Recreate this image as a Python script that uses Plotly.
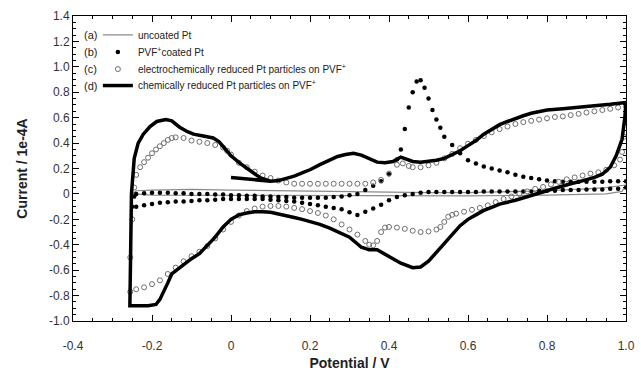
import plotly.graph_objects as go

# ---- (a) uncoated Pt : anodic sweep then cathodic sweep ----
a_potential = [-0.25, -0.24, -0.20, -0.10, 0.00, 0.10, 0.20, 0.30, 0.40, 0.50, 0.60, 0.70, 0.80, 0.90, 0.95, 1.00,
               0.99, 0.95, 0.90, 0.80, 0.60, 0.40, 0.20, 0.00, -0.10, -0.20, -0.25]
a_current = [0.00, 0.025, 0.03, 0.035, 0.03, 0.025, 0.02, 0.015, 0.01, 0.01, 0.01, 0.015, 0.025, 0.04, 0.05, 0.07,
             0.02, 0.00, -0.005, -0.01, -0.015, -0.015, -0.015, -0.01, -0.01, -0.01, 0.00]

# ---- (b) PVF+ coated Pt ----
b_potential = [-0.25, -0.245, -0.24, -0.22, -0.20, -0.18, -0.16, -0.14, -0.12, -0.10, -0.08, -0.06, -0.04, -0.02,
               0.00, 0.02, 0.04, 0.06, 0.08, 0.10, 0.12, 0.14, 0.16, 0.18, 0.20, 0.22, 0.24, 0.26, 0.28, 0.30,
               0.32, 0.34, 0.36, 0.38, 0.40, 0.42, 0.43, 0.44, 0.45, 0.46, 0.47, 0.48, 0.49, 0.50, 0.51, 0.52,
               0.53, 0.54, 0.56, 0.58, 0.60, 0.62, 0.64, 0.66, 0.68, 0.70, 0.72, 0.74, 0.76, 0.78, 0.80, 0.82,
               0.84, 0.86, 0.88, 0.90, 0.92, 0.94, 0.96, 0.98, 1.00,
               1.00, 0.98, 0.96, 0.94, 0.92, 0.90, 0.88, 0.86, 0.84, 0.82, 0.80, 0.78, 0.76, 0.74, 0.72, 0.70,
               0.68, 0.66, 0.64, 0.62, 0.60, 0.58, 0.56, 0.54, 0.52, 0.50, 0.48, 0.46, 0.44, 0.42, 0.40, 0.38,
               0.36, 0.34, 0.32, 0.30, 0.28, 0.26, 0.24, 0.22, 0.20, 0.18, 0.16, 0.14, 0.12, 0.10, 0.08, 0.06,
               0.04, 0.02, 0.00, -0.02, -0.04, -0.06, -0.08, -0.10, -0.12, -0.14, -0.16, -0.18, -0.20, -0.22,
               -0.24]
b_current = [-0.10, -0.02, 0.00, 0.005, 0.01, 0.01, 0.01, 0.005, 0.005, 0.00, 0.00, 0.00, -0.005, -0.005,
             -0.01, -0.01, -0.015, -0.015, -0.02, -0.02, -0.025, -0.025, -0.03, -0.03, -0.03, -0.03, -0.03,
             -0.025, -0.02, -0.01, 0.00, 0.03, 0.065, 0.10, 0.155, 0.27, 0.35, 0.51, 0.68, 0.80, 0.885, 0.895,
             0.835, 0.75, 0.66, 0.585, 0.52, 0.45, 0.385, 0.32, 0.265, 0.24, 0.215, 0.20, 0.185, 0.17, 0.15,
             0.135, 0.125, 0.115, 0.105, 0.10, 0.095, 0.095, 0.095, 0.095, 0.095, 0.095, 0.10, 0.10, 0.10,
             0.05, 0.04, 0.04, 0.035, 0.035, 0.035, 0.03, 0.03, 0.03, 0.025, 0.025, 0.025, 0.02, 0.02, 0.02,
             0.02, 0.02, 0.02, 0.02, 0.015, 0.015, 0.015, 0.015, 0.015, 0.015, 0.015, 0.01, 0.00, -0.01,
             -0.025, -0.05, -0.085, -0.115, -0.14, -0.165, -0.145, -0.12, -0.11, -0.10, -0.09, -0.08, -0.07,
             -0.06, -0.055, -0.05, -0.045, -0.04, -0.04, -0.04, -0.04, -0.04, -0.04, -0.045, -0.05, -0.05,
             -0.055, -0.06, -0.06, -0.065, -0.07, -0.08, -0.09, -0.10]

# ---- (c) electrochemically reduced Pt particles on PVF+ ----
c_potential = [-0.255, -0.255, -0.25, -0.245, -0.24, -0.23, -0.22, -0.21, -0.20, -0.19, -0.18, -0.17, -0.16,
               -0.15, -0.14, -0.12, -0.10, -0.08, -0.06, -0.04, -0.02, -0.01, 0.00, 0.02, 0.04, 0.06, 0.08,
               0.10, 0.12, 0.14, 0.16, 0.18, 0.20, 0.22, 0.24, 0.26, 0.28, 0.30, 0.32, 0.34, 0.36, 0.38, 0.40,
               0.42, 0.435, 0.45, 0.46, 0.48, 0.50, 0.52, 0.54, 0.56, 0.58, 0.60, 0.62, 0.64, 0.66, 0.68, 0.70,
               0.72, 0.74, 0.76, 0.78, 0.80, 0.82, 0.84, 0.86, 0.88, 0.90, 0.92, 0.94, 0.96, 0.98, 1.00,
               0.995, 0.99, 0.985, 0.97, 0.95, 0.93, 0.91, 0.89, 0.87, 0.85, 0.83, 0.81, 0.79, 0.77, 0.75,
               0.73, 0.71, 0.69, 0.67, 0.65, 0.63, 0.61, 0.59, 0.57, 0.56, 0.55, 0.54, 0.53, 0.52, 0.50, 0.48,
               0.46, 0.44, 0.42, 0.40, 0.39, 0.38, 0.37, 0.36, 0.35, 0.34, 0.32, 0.30, 0.28, 0.26, 0.24, 0.22,
               0.20, 0.18, 0.16, 0.14, 0.12, 0.10, 0.08, 0.06, 0.04, 0.02, 0.00, -0.02, -0.04, -0.06, -0.08,
               -0.10, -0.12, -0.14, -0.16, -0.18, -0.20, -0.22, -0.24]
c_current = [-0.77, -0.50, -0.20, 0.05, 0.15, 0.21, 0.25, 0.285, 0.32, 0.35, 0.375, 0.40, 0.425, 0.44, 0.445,
             0.44, 0.42, 0.41, 0.40, 0.385, 0.365, 0.34, 0.31, 0.245, 0.21, 0.175, 0.145, 0.125, 0.105, 0.09,
             0.08, 0.08, 0.08, 0.08, 0.08, 0.08, 0.08, 0.08, 0.08, 0.08, 0.09, 0.11, 0.16, 0.23, 0.24, 0.22,
             0.21, 0.21, 0.225, 0.245, 0.28, 0.315, 0.36, 0.395, 0.425, 0.455, 0.485, 0.51, 0.53, 0.55,
             0.565, 0.575, 0.585, 0.595, 0.605, 0.61, 0.62, 0.63, 0.64, 0.65, 0.66, 0.67, 0.68, 0.69,
             0.45, 0.33, 0.27, 0.225, 0.19, 0.17, 0.16, 0.145, 0.13, 0.115, 0.095, 0.075, 0.055, 0.04, 0.02,
             0.00, -0.02, -0.04, -0.065, -0.09, -0.11, -0.125, -0.14, -0.155, -0.165, -0.18, -0.22, -0.26,
             -0.28, -0.295, -0.30, -0.29, -0.275, -0.265, -0.26, -0.265, -0.30, -0.37, -0.405, -0.40, -0.37,
             -0.32, -0.28, -0.24, -0.20, -0.17, -0.15, -0.135, -0.12, -0.11, -0.10, -0.095, -0.095, -0.10,
             -0.115, -0.135, -0.17, -0.22, -0.28, -0.35, -0.41, -0.455, -0.49, -0.53, -0.58, -0.63, -0.68,
             -0.71, -0.735, -0.75]

# ---- (d) chemically reduced Pt particles on PVF+ : starts at 0 V, sweeps positive ----
d_potential = [0.00, 0.03, 0.06, 0.09, 0.10, 0.12, 0.14, 0.16, 0.18, 0.20, 0.225, 0.25, 0.27, 0.29, 0.31,
               0.33, 0.35, 0.37, 0.39, 0.41, 0.43, 0.44, 0.46, 0.48, 0.50, 0.52, 0.54, 0.56, 0.58, 0.60, 0.62,
               0.64, 0.66, 0.68, 0.70, 0.72, 0.74, 0.76, 0.78, 0.80, 0.84, 0.88, 0.92, 0.96, 1.00,
               0.997, 0.99, 0.975, 0.96, 0.94, 0.92, 0.90, 0.88, 0.86, 0.84, 0.82, 0.80, 0.78, 0.76, 0.74,
               0.72, 0.70, 0.68, 0.66, 0.64, 0.62, 0.60, 0.58, 0.56, 0.54, 0.52, 0.50, 0.48, 0.46, 0.43,
               0.40, 0.37, 0.35, 0.33, 0.30, 0.28, 0.25, 0.225, 0.20, 0.18, 0.16, 0.14, 0.12, 0.10, 0.08,
               0.06, 0.04, 0.02, 0.00, -0.02, -0.04, -0.06, -0.08, -0.10, -0.12, -0.14, -0.15, -0.16, -0.17,
               -0.18, -0.19, -0.21, -0.256,
               -0.256, -0.254, -0.252, -0.245, -0.235, -0.222, -0.205, -0.188, -0.165, -0.15, -0.13, -0.11,
               -0.095, -0.07, -0.045, -0.03, -0.02, 0.00, 0.023, 0.04, 0.056, 0.075, 0.10]
d_current = [0.13, 0.12, 0.11, 0.10, 0.10, 0.105, 0.12, 0.14, 0.165, 0.19, 0.23, 0.27, 0.295, 0.31, 0.32,
             0.305, 0.28, 0.25, 0.245, 0.255, 0.29, 0.28, 0.255, 0.25, 0.255, 0.265, 0.28, 0.31, 0.34, 0.38,
             0.42, 0.47, 0.51, 0.545, 0.57, 0.595, 0.615, 0.635, 0.65, 0.66, 0.67, 0.68, 0.69, 0.705, 0.72,
             0.60, 0.43, 0.30, 0.21, 0.155, 0.13, 0.11, 0.095, 0.08, 0.065, 0.045, 0.025, 0.005, -0.015,
             -0.03, -0.05, -0.065, -0.08, -0.105, -0.13, -0.165, -0.20, -0.25, -0.32, -0.39, -0.47, -0.53,
             -0.575, -0.58, -0.545, -0.49, -0.44, -0.44, -0.42, -0.34, -0.31, -0.27, -0.24, -0.215, -0.20,
             -0.185, -0.17, -0.155, -0.145, -0.14, -0.14, -0.15, -0.165, -0.20, -0.26, -0.34, -0.41, -0.47,
             -0.51, -0.555, -0.60, -0.63, -0.70, -0.76, -0.83, -0.87, -0.88, -0.88,
             -0.88, -0.30, 0.00, 0.28, 0.40, 0.47, 0.53, 0.57, 0.585, 0.575, 0.525, 0.49, 0.47, 0.455, 0.44,
             0.41, 0.375, 0.30, 0.24, 0.20, 0.165, 0.125, 0.10]

# axis ticks
x_tickvals = [-0.4, -0.2, 0.0, 0.2, 0.4, 0.6, 0.8, 1.0]
x_ticktext = ["-0.4", "-0.2", "0", "0.2", "0.4", "0.6", "0.8", "1.0"]
y_tickvals = [1.4, 1.2, 1.0, 0.8, 0.6, 0.4, 0.2, 0.0, -0.2, -0.4, -0.6, -0.8, -1.0]
y_ticktext = ["1.4", "1.2", "1.0", "0.8", "0.6", "0.4", "0.2", "0", "-0.2", "-0.4", "-0.6", "-0.8", "-1.0"]

series_labels = ["(a)", "(b)", "(c)", "(d)"]
series_names = ["uncoated Pt",
                "PVF<sup>+</sup>coated Pt",
                "electrochemically reduced Pt particles on PVF<sup>+</sup>",
                "chemically reduced Pt particles on PVF<sup>+</sup>"]

FONT = "Liberation Sans, Arial, sans-serif"
legend_ids = ["legend", "legend2", "legend3", "legend4"]
legend_rows = [0.938, 0.882, 0.826, 0.772]   # one key row per series, top-left of the plot

fig = go.Figure()
fig.add_trace(go.Scatter(x=a_potential, y=a_current, mode="lines", name=series_names[0],
                         line=dict(color="#8a8a8a", width=1.2), legend=legend_ids[0]))
fig.add_trace(go.Scatter(x=b_potential, y=b_current, mode="markers", name=series_names[1],
                         marker=dict(symbol="circle", size=4.5, color="black"), legend=legend_ids[1]))
fig.add_trace(go.Scatter(x=c_potential, y=c_current, mode="markers", name=series_names[2],
                         marker=dict(symbol="circle-open", size=5, color="#6e6e6e", line=dict(width=1)),
                         legend=legend_ids[2]))
fig.add_trace(go.Scatter(x=d_potential, y=d_current, mode="lines", name=series_names[3],
                         line=dict(color="black", width=3.5), legend=legend_ids[3]))

axis_common = dict(showline=True, linecolor="black", linewidth=1, mirror="allticks",
                   ticks="inside", ticklen=6, tickcolor="black", tickwidth=1,
                   showgrid=False, zeroline=False, automargin=False,
                   tickfont=dict(family=FONT, size=12, color="#333333"))

fig.update_xaxes(range=[-0.4, 1.0], tickvals=x_tickvals, ticktext=x_ticktext, ticklabelstandoff=14,
                 minor=dict(dtick=0.05, tick0=0, ticks="inside", ticklen=3, tickcolor="black"),
                 title=dict(text="<b>Potential / V</b>", font=dict(family=FONT, size=14, color="#222222"),
                            standoff=5),
                 **axis_common)
fig.update_yaxes(range=[-1.0, 1.4], tickvals=y_tickvals, ticktext=y_ticktext,
                 minor=dict(dtick=0.05, tick0=0, ticks="inside", ticklen=3, tickcolor="black"),
                 title=dict(text="<b>Current / 1e-4A</b>", font=dict(family=FONT, size=14, color="#222222"),
                            standoff=18),
                 **axis_common)

# series letters next to the key rows
for lab, row in zip(series_labels, legend_rows):
    fig.add_annotation(text=lab, xref="paper", yref="paper", x=0.017, y=row,
                       xanchor="left", yanchor="middle", showarrow=False,
                       font=dict(family=FONT, size=11, color="#222222"))

legend_style = dict(x=0.045, xanchor="left", yanchor="middle", bgcolor="rgba(0,0,0,0)",
                    font=dict(family=FONT, size=10, color="#222222"), itemwidth=30,
                    borderwidth=0, tracegroupgap=0)

fig.update_layout(
    width=641, height=375,
    margin=dict(l=73, r=15, t=16, b=54, autoexpand=False),
    plot_bgcolor="white", paper_bgcolor="white",
    font=dict(family=FONT, size=10, color="#222222"),
    legend=dict(y=legend_rows[0], **legend_style),
    legend2=dict(y=legend_rows[1], **legend_style),
    legend3=dict(y=legend_rows[2], **legend_style),
    legend4=dict(y=legend_rows[3], **legend_style),
    showlegend=True,
)

fig.write_html("out.html")
